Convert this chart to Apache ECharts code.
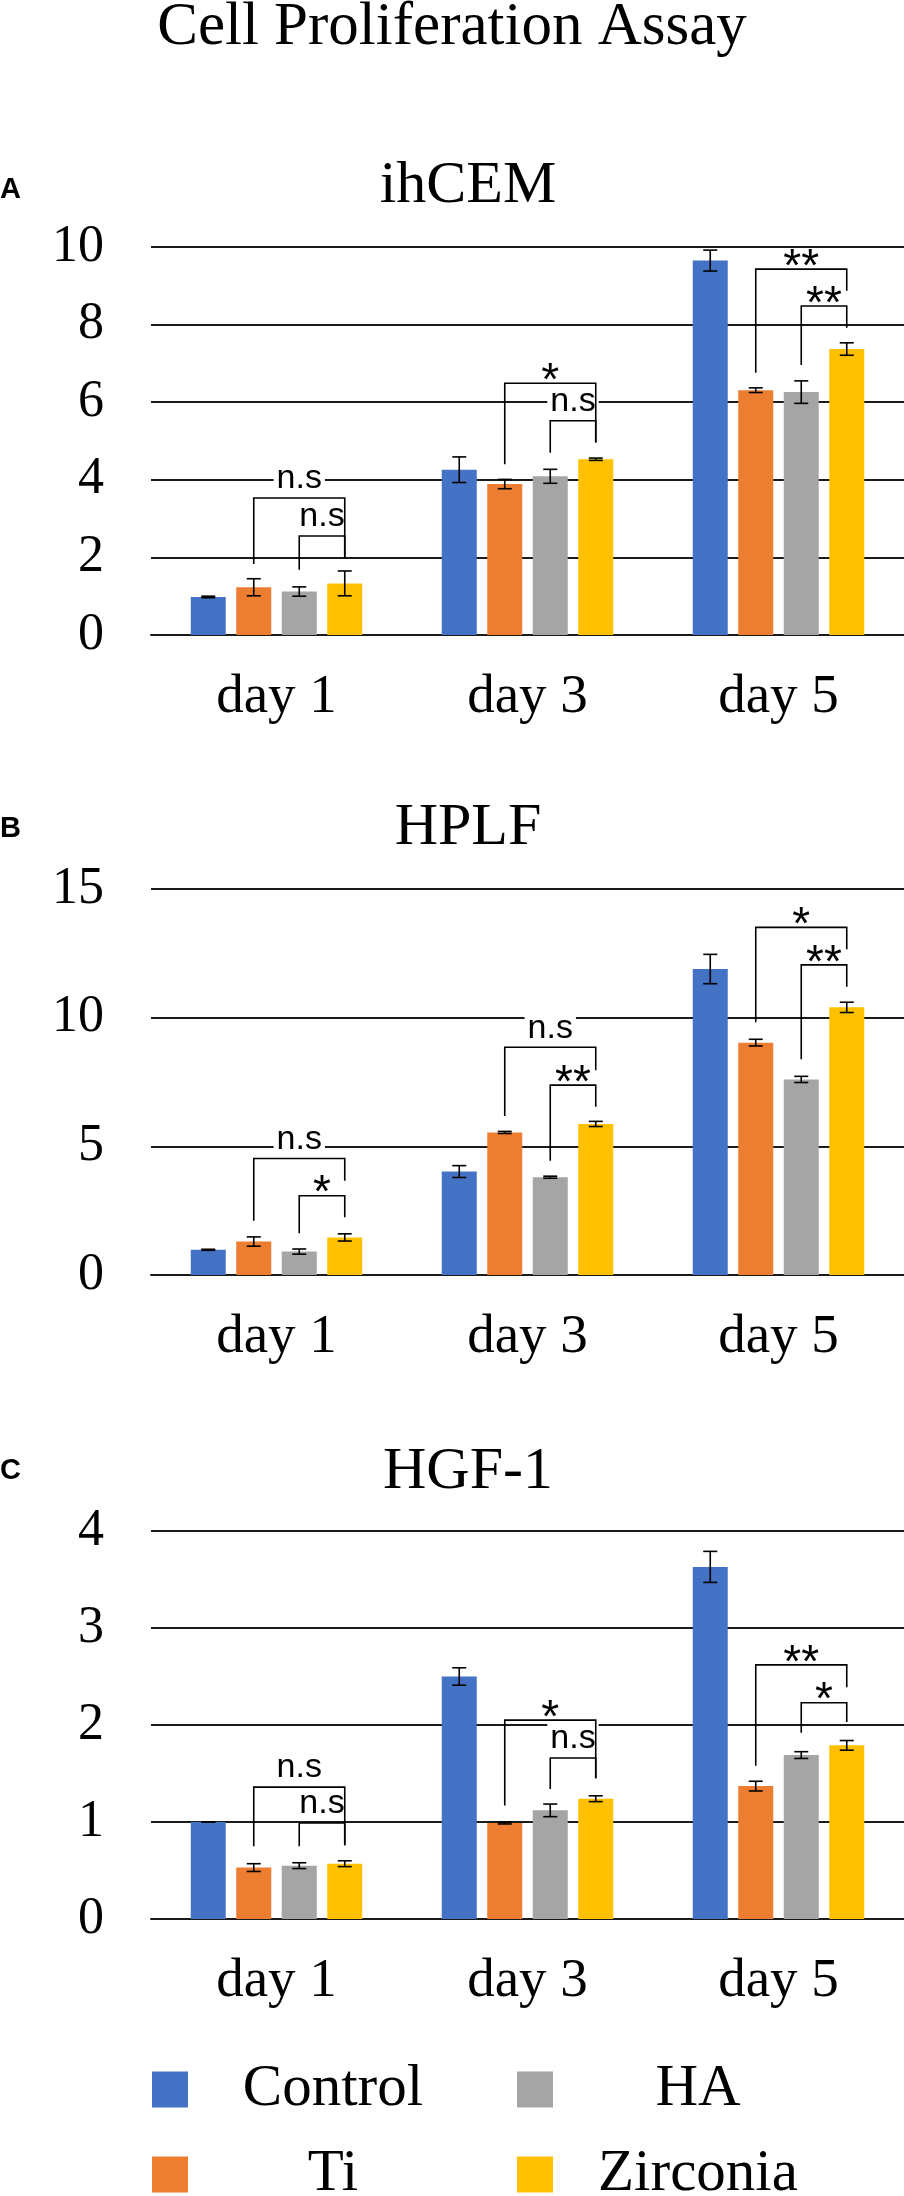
<!DOCTYPE html>
<html lang="en">
<head>
<meta charset="UTF-8">
<title>Cell Proliferation Assay</title>
<script src="https://cdn.jsdelivr.net/npm/echarts@6/dist/echarts.min.js"></script>
<style>
  html, body { margin: 0; padding: 0; background: #fff; }
  #main { width: 904px; height: 2196px; }
</style>
</head>
<body>
<div id="main"></div>
<script>
var days = ['day 1', 'day 3', 'day 5'];
var groups = ['Control', 'Ti', 'HA', 'Zirconia'];
var colors = ['#4472C4', '#ED7D31', '#A5A5A5', '#FFC000'];
var panelNames = ['ihCEM', 'HPLF', 'HGF-1'];
var panelLetters = ['A', 'B', 'C'];

// rows: Control, Ti, HA, Zirconia / cols: day 1, day 3, day 5
var ihcemMean = [[0.98, 4.26, 9.65], [1.23, 3.89, 6.31], [1.12, 4.09, 6.26], [1.33, 4.53, 7.37]];
var ihcemErr  = [[0.02, 0.33, 0.27], [0.22, 0.12, 0.06], [0.12, 0.18, 0.29], [0.32, 0.03, 0.16]];
var hplfMean  = [[0.98, 4.02, 11.89], [1.30, 5.54, 9.03], [0.91, 3.80, 7.60], [1.46, 5.87, 10.40]];
var hplfErr   = [[0.02, 0.23, 0.57], [0.18, 0.04, 0.13], [0.10, 0.04, 0.12], [0.14, 0.10, 0.20]];
var hgfMean   = [[1.00, 2.50, 3.63], [0.53, 0.99, 1.37], [0.55, 1.12, 1.69], [0.57, 1.24, 1.79]];
var hgfErr    = [[0.00, 0.09, 0.16], [0.04, 0.01, 0.05], [0.03, 0.065, 0.035], [0.03, 0.03, 0.05]];

// y axis [min, max, step]
var ihcemAxis = [0, 10, 2];
var hplfAxis  = [0, 15, 5];
var hgfAxis   = [0, 4, 1];

// brackets: [day, from group, to group, top, left end, right end, label]
var ihcemSig = [
  [0, 1, 3, 3.53, 1.83, 2.00, 'n.s'], [0, 2, 3, 2.55, 1.68, 2.00, 'n.s'],
  [1, 1, 3, 6.49, 4.40, 4.96, '*'],   [1, 2, 3, 5.52, 4.70, 4.96, 'n.s'],
  [2, 1, 3, 9.43, 6.76, 8.87, '**'],  [2, 2, 3, 8.48, 6.96, 7.92, '**']
];
var hplfSig = [
  [0, 1, 3, 4.53, 2.11, 3.66, 'n.s'], [0, 2, 3, 3.08, 1.62, 2.24, '*'],
  [1, 1, 3, 8.85, 6.18, 7.96, 'n.s'], [1, 2, 3, 7.38, 4.44, 6.54, '**'],
  [2, 1, 3, 13.51, 9.82, 12.66, '*'], [2, 2, 3, 12.05, 8.38, 11.20, '**']
];
var hgfSig = [
  [0, 1, 3, 1.36, 0.75, 0.76, 'n.s'], [0, 2, 3, 0.99, 0.75, 0.76, 'n.s'],
  [1, 1, 3, 2.05, 1.17, 1.45, '*'],   [1, 2, 3, 1.66, 1.34, 1.45, 'n.s'],
  [2, 1, 3, 2.62, 1.58, 2.39, '**'],  [2, 2, 3, 2.23, 1.92, 2.03, '*']
];

var means = [ihcemMean, hplfMean, hgfMean];
var errs = [ihcemErr, hplfErr, hgfErr];
var axes = [ihcemAxis, hplfAxis, hgfAxis];
var sigs = [ihcemSig, hplfSig, hgfSig];

var SERIF = 'Liberation Serif, Times New Roman, serif';
var SANS = 'Liberation Sans, Arial, sans-serif';
var LINE = '#1a1a1a';
var BAR_W = 35, GAP = 0.3, CAP = 7;

var grids = [
  { left: 151, right: 0, top: 247, height: 388 },
  { left: 151, right: 0, top: 889, height: 386 },
  { left: 151, right: 0, top: 1531, height: 388 }
];

// centre of bar g relative to the category centre (same rule echarts uses)
function barOffset(g) {
  var total = groups.length * BAR_W + (groups.length - 1) * BAR_W * GAP;
  return -total / 2 + g * BAR_W * (1 + GAP) + BAR_W / 2;
}

function errorItem(params, api) {
  var d = api.value(0), m = api.value(1), e = api.value(2), g = api.value(3);
  var x = api.coord([d, m])[0] + barOffset(g);
  var y1 = api.coord([d, m + e])[1];
  var y2 = api.coord([d, m - e])[1];
  var st = { stroke: '#000', lineWidth: 1.6, fill: null };
  return {
    type: 'group',
    children: [
      { type: 'line', shape: { x1: x, y1: y1, x2: x, y2: y2 }, style: st },
      { type: 'line', shape: { x1: x - CAP, y1: y1, x2: x + CAP, y2: y1 }, style: st },
      { type: 'line', shape: { x1: x - CAP, y1: y2, x2: x + CAP, y2: y2 }, style: st }
    ]
  };
}

function sigRenderer(rows) {
  return function (params, api) {
    var r = rows[params.dataIndex];
    var d = api.value(0);
    var xc = api.coord([d, 0])[0];
    var xl = xc + barOffset(api.value(1));
    var xr = xc + barOffset(api.value(2));
    var yt = api.coord([d, api.value(3)])[1];
    var yl = api.coord([d, api.value(4)])[1];
    var yr = api.coord([d, api.value(5)])[1];
    var stars = r[6].indexOf('*') >= 0;
    var txt = {
      type: 'text', x: (xl + xr) / 2, y: stars ? yt + 22 : yt - 2, z2: 1,
      style: {
        text: r[6], fill: '#000', align: 'center', verticalAlign: 'bottom',
        fontFamily: SANS, fontSize: stars ? 46 : 34,
        backgroundColor: stars ? 'transparent' : '#fff', padding: [0, 3]
      }
    };
    return {
      type: 'group',
      children: [
        txt,
        {
          type: 'polyline', z2: 5,
          shape: { points: [[xl, yl], [xl, yt], [xr, yt], [xr, yr]] },
          style: { stroke: '#000', lineWidth: 1.6, fill: null }
        }
      ]
    };
  };
}

var titles = [{
  text: 'Cell Proliferation Assay', left: 'center', top: -3, padding: 0,
  textStyle: { fontFamily: SERIF, fontSize: 61, fontWeight: 'normal', color: '#000' }
}];
var titleTops = [156, 798, 1442];
var letterTops = [175, 814, 1456];
var xAxes = [], yAxes = [], series = [];

for (var p = 0; p < 3; p++) {
  titles.push({
    text: panelNames[p], left: 468, top: titleTops[p], padding: 0, textAlign: 'center',
    textStyle: { fontFamily: SERIF, fontSize: 60, fontWeight: 'normal', color: '#000' }
  });
  titles.push({
    text: panelLetters[p], left: 0, top: letterTops[p], padding: 0,
    textStyle: { fontFamily: SANS, fontSize: 29, fontWeight: 'bold', color: '#000' }
  });

  xAxes.push({
    type: 'category', gridIndex: p, data: days,
    axisLine: { lineStyle: { color: LINE, width: 2 } },
    axisTick: { show: false },
    axisLabel: { fontFamily: SERIF, fontSize: 55, color: '#000', margin: 35 }
  });
  yAxes.push({
    type: 'value', gridIndex: p, min: axes[p][0], max: axes[p][1], interval: axes[p][2],
    axisLine: { show: false }, axisTick: { show: false },
    splitLine: { lineStyle: { color: LINE, width: 2 } },
    axisLabel: { fontFamily: SERIF, fontSize: 52, color: '#000', margin: 47 }
  });

  var errData = [];
  for (var g = 0; g < groups.length; g++) {
    series.push({
      name: groups[g], type: 'bar', xAxisIndex: p, yAxisIndex: p,
      data: means[p][g], barWidth: BAR_W, barGap: (GAP * 100) + '%',
      itemStyle: { color: colors[g] }, z: 2
    });
    for (var d = 0; d < days.length; d++) {
      errData.push([d, means[p][g][d], errs[p][g][d], g]);
    }
  }
  series.push({
    name: 'err' + p, type: 'custom', xAxisIndex: p, yAxisIndex: p,
    renderItem: errorItem, data: errData, encode: { x: 0, y: 1 }, z: 3, silent: true
  });
  series.push({
    name: 'sig' + p, type: 'custom', xAxisIndex: p, yAxisIndex: p,
    renderItem: sigRenderer(sigs[p]),
    data: sigs[p].map(function (r) { return r.slice(0, 6); }),
    encode: { x: 0, y: 3 }, z: 4, silent: true
  });
}

// legend in two rows: Control / HA on top, Ti / Zirconia below
var legendRows = [['Control', 'HA'], ['Ti', 'Zirconia']];
var legendTops = [2060, 2145];
var legends = legendRows.map(function (row, i) {
  return {
    data: row, orient: 'horizontal', left: 152, top: legendTops[i],
    padding: 0, itemGap: 44, itemWidth: 36, itemHeight: 36, icon: 'rect',
    formatter: '{t|{name}}',
    textStyle: {
      rich: { t: { width: 280, align: 'center', fontFamily: SERIF, fontSize: 59, lineHeight: 42, color: '#000' } }
    }
  };
});

var myChart = echarts.init(document.getElementById('main'));
myChart.setOption({
  animation: false,
  backgroundColor: '#fff',
  title: titles,
  grid: grids,
  xAxis: xAxes,
  yAxis: yAxes,
  legend: legends,
  series: series
});
</script>
</body>
</html>
